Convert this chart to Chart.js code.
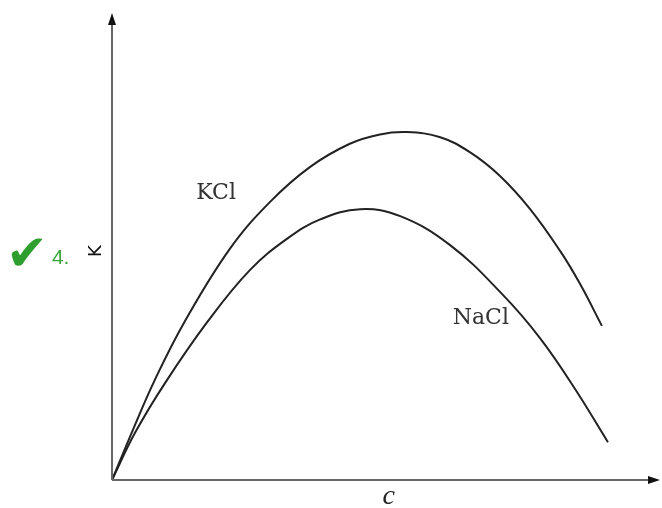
<!DOCTYPE html>
<html>
<head>
<meta charset="utf-8">
<script src="https://cdn.jsdelivr.net/npm/chart.js@4"></script>
<style>
  html, body { margin: 0; padding: 0; background: #fff; }
  #wrap { position: relative; width: 662px; height: 508px; }
  #mark { position: absolute; left: 6px; top: 228px; height: 50px; display: flex; align-items: center; font-family: 'DejaVu Sans', sans-serif; white-space: nowrap; }
  #mark .tick { font-size: 50px; line-height: 50px; color: #2e9e2e; }
  #mark .num { font-size: 21px; margin-left: 4px; margin-top: 8px; color: #3aa63a; font-family: 'Liberation Sans', Arial, sans-serif; }
</style>
</head>
<body>
<div id="wrap">
  <canvas id="chart" width="662" height="508"></canvas>
  <div id="mark"><span class="tick">✔</span><span class="num">4.</span></div>
</div>
<script>
// curve readings, arbitrary units (0..100 both ways)
const kclC = [0, 3.8, 7.8, 13.3, 21.5, 28.8, 36.1, 43.4, 48.9, 53.8, 59.9, 65.3, 70.8, 76.3, 81.8, 85.4, 89.4]
const kclK = [0, 10.7, 21.4, 34.0, 49.5, 59.5, 67.0, 72.0, 74.0, 74.5, 73.4, 70.2, 65.1, 58.0, 49.0, 42.0, 33.0]

const naclC = [0, 4.2, 9.7, 17.5, 25.2, 32.1, 38.0, 45.3, 52.6, 61.7, 71.2, 78.1, 84.5, 90.5]
const naclK = [0, 10.1, 20.8, 34.0, 45.0, 51.8, 55.8, 58.0, 56.5, 50.3, 39.8, 30.4, 19.5, 8.1]

const seriesNames = ['KCl', 'NaCl']

function pairs(xs, ys) {
  return xs.map((x, i) => ({ x: x, y: ys[i] }))
}

const axesPlugin = {
  id: 'axesAndLabels',
  afterDraw(chart) {
    const ctx = chart.ctx
    const a = chart.chartArea
    const xs = chart.scales.x
    const ys = chart.scales.y
    ctx.save()
    // axis lines
    ctx.strokeStyle = '#666'
    ctx.lineWidth = 2
    ctx.beginPath()
    ctx.moveTo(a.left, a.bottom)
    ctx.lineTo(a.right - 6, a.bottom)
    ctx.moveTo(a.left, a.bottom)
    ctx.lineTo(a.left, a.top + 6)
    ctx.stroke()
    // arrow heads
    ctx.fillStyle = '#111'
    ctx.beginPath()
    ctx.moveTo(a.right, a.bottom)
    ctx.lineTo(a.right - 12, a.bottom - 4)
    ctx.lineTo(a.right - 12, a.bottom + 4)
    ctx.closePath()
    ctx.fill()
    ctx.beginPath()
    ctx.moveTo(a.left, a.top)
    ctx.lineTo(a.left - 4, a.top + 12)
    ctx.lineTo(a.left + 4, a.top + 12)
    ctx.closePath()
    ctx.fill()
    // curve labels
    ctx.fillStyle = '#333'
    ctx.font = '22px "DejaVu Serif", "Liberation Serif", serif'
    ctx.textAlign = 'center'
    ctx.textBaseline = 'middle'
    ctx.fillText(seriesNames[0], xs.getPixelForValue(19.0), ys.getPixelForValue(61.5))
    ctx.fillText(seriesNames[1], xs.getPixelForValue(67.3), ys.getPixelForValue(34.7))
    // axis titles
    ctx.fillStyle = '#222'
    ctx.font = 'italic 28px "Liberation Serif", "DejaVu Serif", serif'
    ctx.fillText('c', xs.getPixelForValue(50.5), a.bottom + 17)
    ctx.save()
    ctx.translate(a.left - 16, ys.getPixelForValue(49))
    ctx.rotate(-Math.PI / 2)
    ctx.font = '18px "DejaVu Sans", sans-serif'
    ctx.fillStyle = '#111'
    ctx.fillText('K', 0, 0)
    ctx.restore()
    ctx.restore()
  }
}

const chartConfig = {
  type: 'line',
  data: {
    datasets: [
      {
        label: seriesNames[0],
        data: pairs(kclC, kclK),
        borderColor: '#222',
        borderWidth: 2,
        pointRadius: 0,
        fill: false,
        tension: 0.4
      },
      {
        label: seriesNames[1],
        data: pairs(naclC, naclK),
        borderColor: '#222',
        borderWidth: 2,
        pointRadius: 0,
        fill: false,
        tension: 0.4
      }
    ]
  },
  options: {
    responsive: false,
    animation: false,
    layout: {
      padding: { left: 112, top: 13, right: 2, bottom: 28 }
    },
    plugins: {
      legend: { display: false },
      tooltip: { enabled: false }
    },
    scales: {
      x: { type: 'linear', min: 0, max: 100, display: false },
      y: { type: 'linear', min: 0, max: 100, display: false }
    }
  },
  plugins: [axesPlugin]
}

new Chart(document.getElementById('chart').getContext('2d'), chartConfig)
</script>
</body>
</html>
